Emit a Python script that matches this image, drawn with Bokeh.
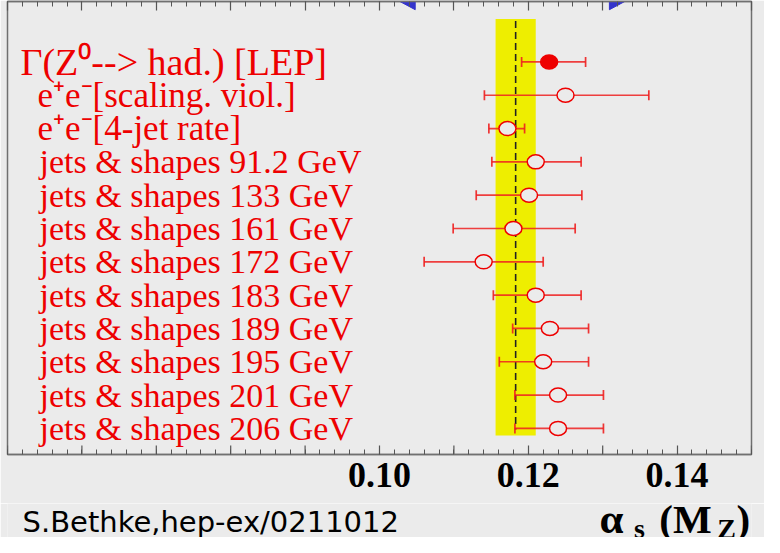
from bokeh.plotting import figure
from bokeh.layouts import column
from bokeh.models import Range1d, FixedTicker, LinearAxis, ColumnDataSource
from bokeh.core.properties import value
from bokeh.embed import file_html
from bokeh.resources import INLINE

# ---------------- data ----------------
labels = [
    "Γ(Z⁰--> had.) [LEP]",
    "e⁺e⁻[scaling. viol.]",
    "e⁺e⁻[4-jet rate]",
    "jets & shapes 91.2 GeV",
    "jets & shapes 133 GeV",
    "jets & shapes 161 GeV",
    "jets & shapes 172 GeV",
    "jets & shapes 183 GeV",
    "jets & shapes 189 GeV",
    "jets & shapes 195 GeV",
    "jets & shapes 201 GeV",
    "jets & shapes 206 GeV",
]
alpha_s = [0.1228, 0.1250, 0.1172, 0.1210, 0.1201, 0.1180, 0.1140, 0.1210, 0.1229, 0.1220, 0.1240, 0.1240]
err_low = [0.1191, 0.1141, 0.1147, 0.1151, 0.1130, 0.1099, 0.1060, 0.1153, 0.1179, 0.1161, 0.1182, 0.1182]
err_high = [0.1277, 0.1362, 0.1195, 0.1271, 0.1272, 0.1263, 0.1220, 0.1271, 0.1281, 0.1281, 0.1301, 0.1301]
filled = [True, False, False, False, False, False, False, False, False, False, False, False]

world_average = 0.1183
world_error = 0.0027

arrow_from = 0.1006
arrow_to = 0.1351

x_min, x_max = 0.05, 0.15
major_ticks = [0.05, 0.06, 0.07, 0.08, 0.09, 0.10, 0.11, 0.12, 0.13, 0.14, 0.15]
labelled_ticks = [0.10, 0.12, 0.14]
tick_labels = {0.10: "0.10", 0.12: "0.12", 0.14: "0.14"}

credit = "S.Bethke,hep-ex/0211012"

# ---------------- styling ----------------
BG = "#ebebeb"
RED = "#ee0000"
BAR = "#ee2020"
FRAME = "#707070"
TICK = "#555555"

n = len(labels)
rows = list(range(n))
minor = [round(x_min + 0.002 * i, 4) for i in range(51)]
y_bottom, y_top = 11.784, -1.814

W = 764
H_MAIN, H_FOOT = 503, 34

p = figure(width=W, height=H_MAIN, output_backend="svg", toolbar_location=None,
           x_range=Range1d(x_min, x_max), y_range=Range1d(y_bottom, y_top),
           x_axis_location=None, y_axis_location=None,
           min_border_left=7, min_border_right=13, min_border_top=1,
           min_border_bottom=H_MAIN - 454,
           background_fill_color=BG, border_fill_color=BG)
p.xgrid.visible = False
p.ygrid.visible = False
p.outline_line_color = FRAME
p.outline_line_width = 1.5


def style_axis(ax):
    ax.axis_line_color = FRAME
    ax.axis_line_width = 1.5
    ax.major_tick_in = 9
    ax.major_tick_out = 0
    ax.minor_tick_in = 5
    ax.minor_tick_out = 0
    ax.major_tick_line_color = TICK
    ax.minor_tick_line_color = TICK
    ax.major_tick_line_width = 1.2
    ax.minor_tick_line_width = 1


bottom = LinearAxis(ticker=FixedTicker(ticks=labelled_ticks, minor_ticks=minor),
                    major_label_overrides=tick_labels)
style_axis(bottom)
bottom.major_label_text_font = "Liberation Serif"
bottom.major_label_text_font_style = "bold"
bottom.major_label_text_font_size = "36px"
bottom.major_label_text_color = "black"
bottom.major_label_standoff = 8
p.add_layout(bottom, "below")

top = LinearAxis(ticker=FixedTicker(ticks=major_ticks, minor_ticks=minor))
style_axis(top)
top.major_label_text_font_size = "0px"
top.major_label_text_color = None
top.major_label_standoff = 0
p.add_layout(top, "above")

# the unlabelled 0.01 ticks of the bottom axis, as long as the labelled ones
unlabelled = [t for t in major_ticks if round(t, 2) not in tick_labels]
p.scatter(x=unlabelled, y=[y_bottom] * len(unlabelled), marker="dash", angle=1.5708,
          size=18, line_color=TICK, line_width=1.2)

# world average band and dashed centre line
p.quad(left=[world_average - world_error], right=[world_average + world_error],
       top=[-1.289], bottom=[11.214], fill_color="#eeee00", line_color=None)
p.segment(x0=[world_average], x1=[world_average], y0=[-1.23], y1=[11.03],
          line_color="#222222", line_width=1.6, line_dash="7 4")

# blue double arrow at the top (only the lower part of the heads is inside the page)
p.patches(xs=[[arrow_from, arrow_from + 0.0042, arrow_from + 0.0042],
              [arrow_to, arrow_to - 0.0042, arrow_to - 0.0042]],
          ys=[[-2.07, -1.568, -2.6], [-2.07, -1.568, -2.6]],
          fill_color="#3434cc", line_color="#3434cc")

src = ColumnDataSource(dict(
    y=rows, val=alpha_s, lo=err_low, hi=err_high,
    fill=[RED if f else BG for f in filled],
))

p.segment(x0="lo", x1="hi", y0="y", y1="y", source=src,
          line_color=BAR, line_alpha=0.85, line_width=1.7)
for col_name in ("lo", "hi"):
    p.scatter(x=col_name, y="y", source=src, marker="dash", angle=1.5708, size=10,
              line_color=BAR, line_alpha=0.9, line_width=1.7)
p.ellipse(x="val", y="y", width=17, height=14, width_units="screen", height_units="screen",
          source=src, fill_color="fill", line_color=RED, line_width=1.5)

# row labels
indent = [13, 30, 30] + [32] * (n - 3)
sizes = ["38px", "35px", "35px"] + ["34px"] * (n - 3)
lab_src = ColumnDataSource(dict(x=[x_min] * n, y=rows, text=labels, dx=indent, fs=sizes))
p.text(x="x", y="y", text="text", source=lab_src, x_offset="dx", text_font_size="fs",
       text_font=value("Liberation Serif"), text_color=RED,
       text_align="left", text_baseline="middle")

# ---------------- footer ----------------
f = figure(width=W, height=H_FOOT, output_backend="svg", toolbar_location=None,
           x_range=Range1d(x_min, x_max), y_range=Range1d(0, H_FOOT),
           x_axis_location=None, y_axis_location=None,
           min_border_left=7, min_border_right=13, min_border_top=0, min_border_bottom=0,
           background_fill_color=BG, border_fill_color=BG)
f.xgrid.visible = False
f.ygrid.visible = False
f.outline_line_color = None

f.text(x=[0.05202], y=[16], text=[credit], text_font=value("DejaVu Sans"),
       text_font_size="29px", text_color="black", text_baseline="middle")

foot = dict(text_font=value("Liberation Serif"), text_font_style="bold",
            text_color="black", text_baseline="middle")
f.text(x=[0.12957], y=[19], text=["α"], text_font_size="43px", **foot)
f.text(x=[0.13420], y=[9], text=["s"], text_font_size="28px", **foot)
f.text(x=[0.13760], y=[19], text=["(M"], text_font_size="41px", **foot)
f.text(x=[0.14540], y=[9], text=["Z"], text_font_size="28px", **foot)
f.text(x=[0.14800], y=[19], text=[")"], text_font_size="41px", **foot)

layout = column(p, f, spacing=0)
open("out.html", "w").write(file_html(layout, INLINE))
